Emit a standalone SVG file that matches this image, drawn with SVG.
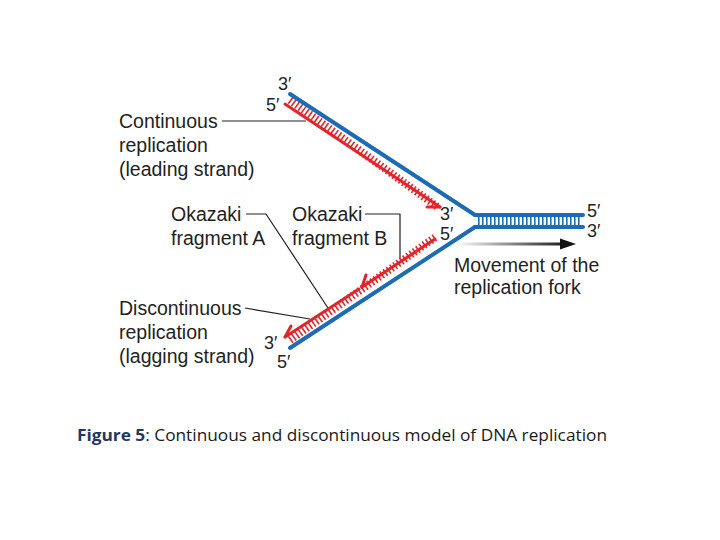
<svg xmlns="http://www.w3.org/2000/svg" width="720" height="540" viewBox="0 0 720 540">
<style>
.t{font-family:"Liberation Sans",Arial,sans-serif;font-size:19.5px;fill:#231f20}
.p{font-family:"Liberation Sans",Arial,sans-serif;font-size:18px;fill:#231f20}
.b{stroke:#1b6bb5;stroke-width:4;fill:none;stroke-linecap:round}
.r{stroke:#e0262b;stroke-width:3;fill:none;stroke-linecap:round}
.tk{stroke-width:8;stroke-dasharray:1.6 2.4;fill:none}
.ld{stroke:#231f20;stroke-width:1.2;fill:none}
</style>
<defs>
<linearGradient id="g" gradientUnits="userSpaceOnUse" x1="455" y1="0" x2="570" y2="0"><stop offset="0" stop-color="#fff"/><stop offset="1" stop-color="#111"/></linearGradient>
</defs>
<rect width="720" height="540" fill="#fff"/>
<g id="connectors">
<line class="ld" x1="222" y1="121" x2="306" y2="121"/>
<polyline class="ld" points="246,214 266,214 328,308"/>
<polyline class="ld" points="365,214 400,214 400,258"/>
<line class="ld" x1="245" y1="308" x2="310" y2="319"/>
</g>
<g id="leading-strand">
<line class="tk" stroke="#e0262b" x1="290" y1="100" x2="439" y2="208"/>
<line class="b" x1="290" y1="94" x2="475" y2="215"/>
<line class="r" x1="285" y1="104" x2="440" y2="207"/>
<line class="r" x1="440" y1="207" x2="427" y2="207" stroke-width="2.5"/>
</g>
<g id="duplex">
<line class="tk" stroke="#1b6bb5" x1="478" y1="221" x2="582" y2="221"/>
<line class="b" x1="475" y1="215" x2="583" y2="215"/>
<line class="b" x1="475" y1="227" x2="583" y2="227"/>
</g>
<g id="lagging-strand">
<line class="tk" stroke="#e0262b" x1="290" y1="340" x2="437" y2="236"/>
<line class="b" x1="475" y1="227" x2="290" y2="348"/>
<line class="r" x1="435" y1="239" x2="362" y2="287"/>
<line class="r" x1="359" y1="289" x2="285" y2="337"/>
<line class="r" x1="362" y1="287" x2="366" y2="275" stroke-width="2.5"/>
<line class="r" x1="285" y1="337" x2="291" y2="326" stroke-width="2.5"/>
</g>
<g id="fork-arrow">
<line x1="455" y1="244" x2="565" y2="244" stroke="url(#g)" stroke-width="3"/>
<polygon points="576,244 560,238.5 560,249.5" fill="#111"/>
</g>
<g id="labels">
<text class="t" x="119" y="128">Continuous</text>
<text class="t" x="119" y="152">replication</text>
<text class="t" x="119" y="176">(leading strand)</text>
<text class="t" x="171" y="221">Okazaki</text>
<text class="t" x="171" y="245">fragment A</text>
<text class="t" x="292" y="221">Okazaki</text>
<text class="t" x="292" y="245">fragment B</text>
<text class="t" x="454" y="272">Movement of the</text>
<text class="t" x="454" y="294">replication fork</text>
<text class="t" x="119" y="315">Discontinuous</text>
<text class="t" x="119" y="339">replication</text>
<text class="t" x="119" y="363">(lagging strand)</text>
<text class="p" x="278" y="90">3′</text>
<text class="p" x="266" y="111">5′</text>
<text class="p" x="440" y="220">3′</text>
<text class="p" x="440" y="240">5′</text>
<text class="p" x="587" y="217">5′</text>
<text class="p" x="587" y="237">3′</text>
<text class="p" x="264" y="349">3′</text>
<text class="p" x="277" y="368">5′</text>
</g>
<g id="caption">
<text x="77" y="441" font-family="'Open Sans','Liberation Sans',sans-serif" font-size="15.5" fill="#1a1a1a" textLength="530" lengthAdjust="spacingAndGlyphs"><tspan font-weight="bold" fill="#1f3864">Figure 5</tspan>: Continuous and discontinuous model of DNA replication</text>
</g>
</svg>
